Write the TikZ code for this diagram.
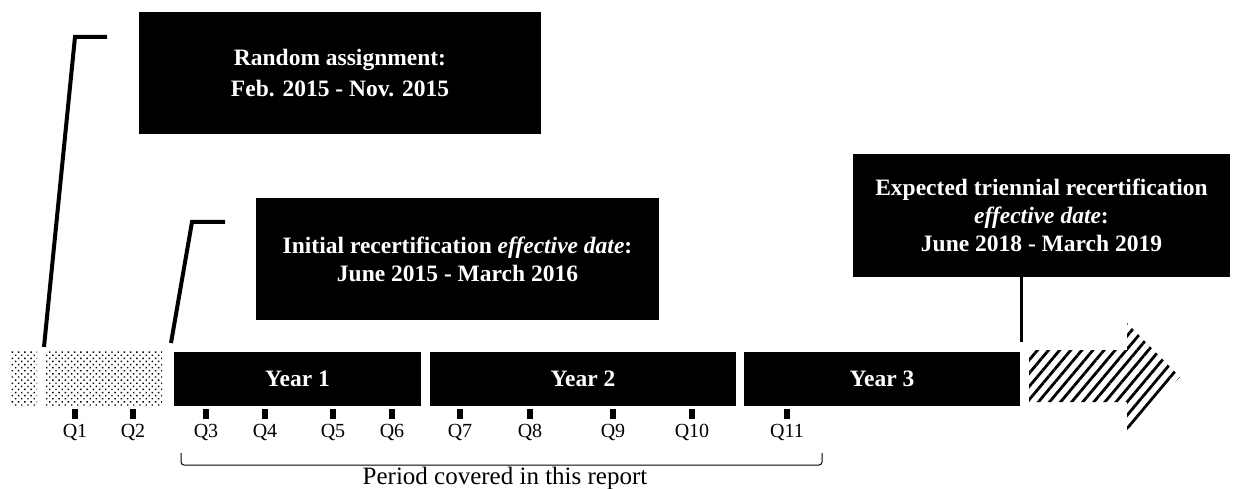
\documentclass[tikz,border=0pt]{standalone}
\usepackage{fontspec}
\setmainfont{Liberation Serif}
\usetikzlibrary{patterns.meta}
\begin{document}
\begin{tikzpicture}[x=1pt,y=-1pt,
  blackbox/.style={fill=black,draw=none,text=white,font=\fontsize{23.5}{28}\selectfont\bfseries,align=center,inner sep=0pt},
  yearbar/.style={fill=black,draw=none,text=white,font=\fontsize{23.5}{25}\selectfont\bfseries,inner sep=0pt},
  dotbar/.style={pattern={Dots[radius=1pt,distance=4.4pt,angle=45]},pattern color=black,draw=none,inner sep=0pt},
  tickmark/.style={fill=black,draw=none,minimum width=6pt,minimum height=10pt,inner sep=0pt},
  qlab/.style={font=\fontsize{20}{22}\selectfont,inner sep=0pt},
  leader/.style={line width=4pt,line cap=butt},
]
\useasboundingbox (0,0) rectangle (1245,489);
% top boxes
\node[blackbox,minimum width=402pt,minimum height=122pt,font=\fontsize{23.5}{31}\selectfont\bfseries] (ra) at (340,73) {Random assignment:\\Feb. 2015 - Nov. 2015};
\node[blackbox,minimum width=403pt,minimum height=122pt] (ir) at (457.5,259) {Initial recertification \textit{effective date}:\\June 2015 - March 2016};
\node[blackbox,minimum width=377pt,minimum height=123pt] (et) at (1041.5,215.5) {Expected triennial recertification\\\textit{effective date}:\\June 2018 - March 2019};
% timeline
\node[dotbar,minimum width=27pt,minimum height=55pt] (d0) at (23.5,378) {};
\node[dotbar,minimum width=116pt,minimum height=55pt] (d1) at (104,378) {};
\node[yearbar,minimum width=247pt,minimum height=54pt] (y1) at (297.5,379) {Year 1};
\node[yearbar,minimum width=306pt,minimum height=54pt] (y2) at (583,379) {Year 2};
\node[yearbar,minimum width=276pt,minimum height=54pt] (y3) at (882,379) {Year 3};
% hatched arrow
\coordinate (ah) at (1180,377);
\fill[pattern={Lines[angle=50,distance=8.5pt,line width=2.8pt]},pattern color=black]
  (1029,350) -- (1127,350) -- (1127,323) -- (ah) -- (1127,430) -- (1127,402) -- (1029,402) -- cycle;
% leaders
\coordinate (l1a) at (107,37);
\coordinate (l1b) at (75,37);
\coordinate (l1c) at (44,347);
\draw[leader] (l1a) -- (l1b) -- (l1c);
\coordinate (l2a) at (225,222);
\coordinate (l2b) at (192,222);
\coordinate (l2c) at (171,343);
\draw[leader] (l2a) -- (l2b) -- (l2c);
\coordinate (l3) at (1021,342);
\draw[line width=3pt] (et.south -| l3) -- (l3);
% ticks and labels
\foreach \n/\x in {1/75,2/133,3/206,4/265,5/333,6/392,7/460,8/530,9/613,10/692,11/787}{
  \node[tickmark] (t\n) at (\x,414) {};
  \node[qlab] (q\n) at (\x,432) {Q\n};
}
% bracket
\coordinate (b1) at (181,453);
\coordinate (b2) at (822,453);
\draw[line width=1pt,rounded corners=3pt] (b1) -- (181,465) -- (822,465) -- (b2);
\node[qlab,font=\fontsize{25}{27}\selectfont] (per) at (505,478) {Period covered in this report};
\end{tikzpicture}
\end{document}
